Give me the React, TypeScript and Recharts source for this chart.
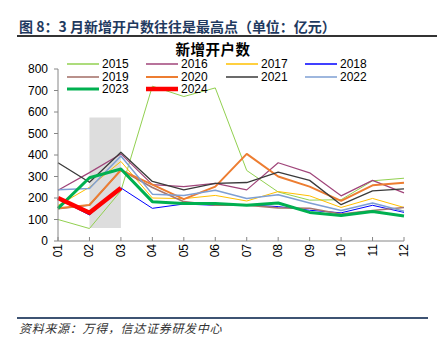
import { LineChart, Line, XAxis, YAxis, ReferenceArea } from 'recharts';

const months = ['01', '02', '03', '04', '05', '06', '07', '08', '09', '10', '11', '12'];

const y2015 = [100, 58, 233, 720, 672, 712, 328, 228, 190, 192, 280, 292];
const y2016 = [236, 318, 405, 262, 253, 268, 238, 364, 317, 210, 282, 224];
const y2017 = [165, 250, 370, 200, 197, 212, 186, 230, 210, 156, 198, 156];
const y2018 = [196, 121, 247, 152, 172, 166, 168, 160, 143, 131, 166, 133];
const y2019 = [150, 166, 330, 249, 183, 166, 166, 154, 152, 125, 142, 156];
const y2020 = [152, 168, 330, 262, 195, 253, 405, 300, 253, 187, 259, 271];
const y2021 = [364, 273, 413, 277, 238, 268, 272, 320, 282, 169, 233, 242];
const y2022 = [238, 244, 395, 218, 212, 236, 198, 215, 177, 142, 177, 138];
const y2023 = [152, 294, 335, 183, 174, 174, 166, 177, 133, 119, 137, 116];
const y2024 = [200, 131, 247];

const yTicks = [0, 100, 200, 300, 400, 500, 600, 700, 800];

// series look: key, color, width
const series = [
  { key: '2015', values: y2015, color: '#92D050', width: 1 },
  { key: '2016', values: y2016, color: '#A0457A', width: 1.2 },
  { key: '2017', values: y2017, color: '#FFC000', width: 1 },
  { key: '2018', values: y2018, color: '#0000FF', width: 1 },
  { key: '2019', values: y2019, color: '#A8766F', width: 1.6 },
  { key: '2020', values: y2020, color: '#ED7D31', width: 2 },
  { key: '2021', values: y2021, color: '#3A3A3A', width: 1.3 },
  { key: '2022', values: y2022, color: '#7E9FD3', width: 1.5 },
  { key: '2023', values: y2023, color: '#00B050', width: 3 },
  { key: '2024', values: y2024, color: '#FF0000', width: 4.5 },
];

const data = months.map((m, i) => {
  const row: Record<string, string | number | undefined> = { month: m };
  series.forEach((s) => {
    row[s.key] = s.values[i];
  });
  return row;
});

const numFont = '"Liberation Sans", Arial, sans-serif';
const cjkFont = '"Noto Sans CJK SC", "Noto Sans", sans-serif';
// latin font first keeps the line box tight, CJK glyphs fall back to Noto
const titleFont = '"Liberation Sans", "Noto Sans CJK SC", sans-serif';
const axisColor = '#868686';

function MonthTick(props: any) {
  const { x, y, payload } = props;
  return (
    <g>
      <line x1={x} x2={x} y1={y} y2={y - 4} stroke={axisColor} strokeWidth={1} />
      <text
        x={x}
        y={y + 3}
        transform={`rotate(-90 ${x} ${y + 3})`}
        textAnchor="end"
        dominantBaseline="central"
        fontSize={12}
        fontFamily={numFont}
        fill="#000"
      >
        {payload.value}
      </text>
    </g>
  );
}

function ChartLegend() {
  const colX = [67, 146, 226, 305];
  const rowY = [64, 76.5, 89];
  return (
    <div style={{ position: 'absolute', left: 0, top: 0 }}>
      {series.map((s, i) => {
        const cx = colX[i % 4];
        const cy = rowY[Math.floor(i / 4)];
        return (
          <div
            key={s.key}
            style={{
              position: 'absolute',
              left: cx,
              top: cy - 6,
              height: 12,
              display: 'flex',
              alignItems: 'center',
              whiteSpace: 'nowrap',
            }}
          >
            <svg width={32} height={12} style={{ display: 'block' }}>
              <line x1={0} x2={32} y1={6} y2={6} stroke={s.color} strokeWidth={Math.max(s.width, 1.5)} strokeLinecap={s.width > 3 ? 'round' : 'butt'} />
            </svg>
            <span style={{ marginLeft: 3, fontSize: 12, fontFamily: numFont, color: '#000', lineHeight: '12px' }}>{s.key}</span>
          </div>
        );
      })}
    </div>
  );
}

export default function App() {
  return (
    <div style={{ position: 'absolute', left: 0, top: 0, width: 439, height: 353, background: '#fff', overflow: 'hidden' }}>
      <div
        style={{
          position: 'absolute',
          left: 19,
          top: 17,
          fontSize: 14,
          fontWeight: 700,
          fontFamily: cjkFont,
          color: '#1F3A60',
          lineHeight: '19px',
          whiteSpace: 'nowrap',
        }}
      >
        图 8：3 月新增开户数往往是最高点（单位：亿元）
      </div>
      <div style={{ position: 'absolute', left: 17, top: 35, width: 420, height: 1.5, background: '#333' }} />

      <LineChart width={439} height={353} data={data} margin={{ top: 69, right: 35, bottom: 56, left: 0 }}>
        <ReferenceArea x1="02" x2="03" y1={60} y2={575} fill="#DDDDDD" fillOpacity={1} stroke="none" />
        <XAxis
          dataKey="month"
          stroke={axisColor}
          tickLine={false}
          tickSize={0}
          tickMargin={0}
          height={56}
          interval={0}
          tick={<MonthTick />}
        />
        <YAxis
          domain={[0, 800]}
          ticks={yTicks}
          width={58}
          stroke={axisColor}
          tickSize={4}
          tickMargin={6}
          tick={{ fontSize: 12, fontFamily: numFont, fill: '#000' }}
          interval={0}
        />
        {series.map((s) => (
          <Line
            key={s.key}
            type="linear"
            dataKey={s.key}
            stroke={s.color}
            strokeWidth={s.width}
            dot={false}
            isAnimationActive={false}
            strokeLinejoin="round"
          />
        ))}
      </LineChart>

      <div
        style={{
          position: 'absolute',
          left: 0,
          width: 426,
          top: 43,
          textAlign: 'center',
          fontSize: 14.5,
          fontWeight: 700,
          fontFamily: titleFont,
          color: '#000',
          lineHeight: '14px',
          letterSpacing: 0.5,
        }}
      >
        新增开户数
      </div>
      <ChartLegend />

      <div style={{ position: 'absolute', left: 17, top: 317, width: 411, height: 2, background: '#3E5373' }} />
      <div
        style={{
          position: 'absolute',
          left: 19,
          top: 320,
          fontSize: 12,
          fontStyle: 'italic',
          fontFamily: cjkFont,
          color: '#333',
          letterSpacing: 0.7,
          lineHeight: '16px',
          whiteSpace: 'nowrap',
        }}
      >
        资料来源：万得，信达证券研发中心
      </div>
    </div>
  );
}
